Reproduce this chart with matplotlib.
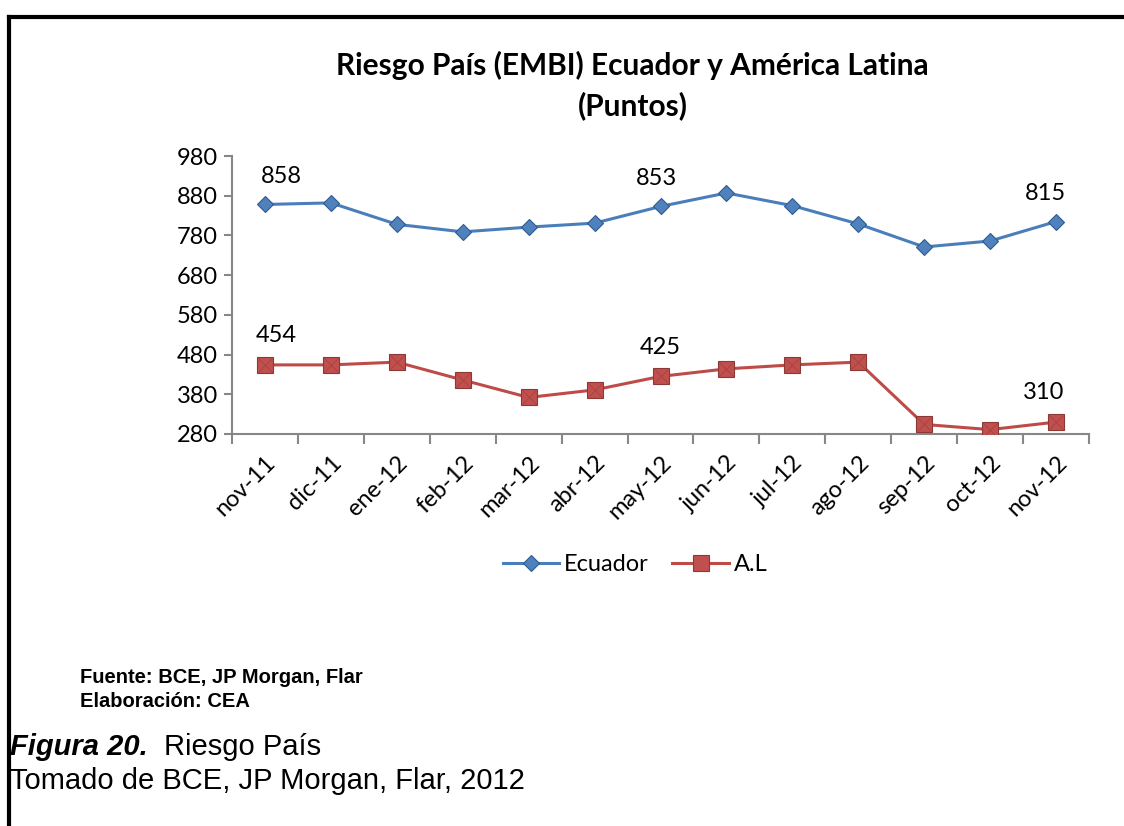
"""Riesgo Pais (EMBI) Ecuador y America Latina, nov-11 a nov-12."""
import matplotlib
matplotlib.use("Agg")
import matplotlib.pyplot as plt
from matplotlib.lines import Line2D
import numpy as np

months = ["nov-11", "dic-11", "ene-12", "feb-12", "mar-12", "abr-12", "may-12",
          "jun-12", "jul-12", "ago-12", "sep-12", "oct-12", "nov-12"]
ecuador = [858, 862, 808, 789, 801, 811, 853, 887, 855, 809, 751, 766, 815]
latam = [454, 454, 461, 416, 372, 391, 425, 444, 454, 461, 304, 291, 310]
y_ticks = [280, 380, 480, 580, 680, 780, 880, 980]
labelled = [0, 6, 12]

plt.rcParams["font.family"] = ["Lato", "DejaVu Sans"]

BLUE_LINE = "#4A7EBB"
BLUE_FILL = "#4F81BD"
BLUE_EDGE = "#2F5B8F"
RED_LINE = "#BE4B48"
RED_FILL = "#C0504D"
RED_EDGE = "#8C3836"
GRAY = "#878787"

fig = plt.figure(figsize=(11.24, 8.26), dpi=100)
ax = fig.add_axes([0.2064, 0.4746, 0.7625, 0.3365])

x = np.arange(len(months))
ax.plot(x, ecuador, color=BLUE_LINE, lw=2.2, marker="D", ms=8,
        mfc=BLUE_FILL, mec=BLUE_EDGE, mew=0.8, zorder=3)
ax.plot(x, latam, color=RED_LINE, lw=2.2, marker="s", ms=12,
        mfc=RED_FILL, mec=RED_EDGE, mew=0.8, zorder=3)
# bevel look of the square markers
ax.plot(x, latam, ls="none", marker="x", ms=10, mec="#A8403D", mew=0.6, zorder=4)

for i in labelled:
    dx = 12 if i == 0 else (-8 if i == 12 else -3)
    ax.annotate(str(ecuador[i]), (x[i], ecuador[i]), xytext=(dx, 20),
                textcoords="offset points", ha="center", va="center", fontsize=17)
    dx = 8 if i == 0 else (-9 if i == 12 else 0)
    ax.annotate(str(latam[i]), (x[i], latam[i]), xytext=(dx, 21),
                textcoords="offset points", ha="center", va="center", fontsize=17)

ax.set_xlim(-0.5, len(months) - 0.5)
ax.set_ylim(y_ticks[0], y_ticks[-1])
ax.set_yticks(y_ticks)
ax.tick_params(axis="y", length=6, width=1.5, color=GRAY, labelsize=17, pad=4)
ax.set_xticks(x)
ax.set_xticklabels(months, rotation=45, ha="right", va="top",
                   rotation_mode="anchor", fontsize=17)
ax.tick_params(axis="x", which="major", length=0, pad=13)
ax.set_xticks(np.arange(-0.5, len(months)), minor=True)
ax.tick_params(axis="x", which="minor", length=7, width=1.5, color=GRAY)
for side in ("top", "right"):
    ax.spines[side].set_visible(False)
for side in ("left", "bottom"):
    ax.spines[side].set_color(GRAY)
    ax.spines[side].set_linewidth(1.5)

handles = [
    Line2D([], [], color=BLUE_LINE, lw=2.2, marker="D", ms=8, mfc=BLUE_FILL,
           mec=BLUE_EDGE, mew=0.8),
    Line2D([], [], color=RED_LINE, lw=2.2, marker="s", ms=12, mfc=RED_FILL,
           mec=RED_EDGE, mew=0.8),
]
fig.legend(handles, ["Ecuador", "A.L"], loc="center", bbox_to_anchor=(0.565, 0.316),
           ncol=2, frameon=False, fontsize=17, handlelength=2.4,
           handletextpad=0.2, columnspacing=1.0)

fig.text(0.563, 0.921, "Riesgo País (EMBI) Ecuador y América Latina",
         ha="center", va="center", fontsize=21.5, fontweight="bold")
fig.text(0.563, 0.872, "(Puntos)", ha="center", va="center",
         fontsize=21.5, fontweight="bold")

fig.text(0.071, 0.180, "Fuente: BCE, JP Morgan, Flar", ha="left", va="center",
         fontsize=14.5, fontweight="bold", family="Liberation Sans")
fig.text(0.071, 0.151, "Elaboración: CEA", ha="left", va="center",
         fontsize=14.5, fontweight="bold", family="Liberation Sans")
fig.text(0.009, 0.096, "Figura 20.", ha="left", va="center", fontsize=21,
         fontweight="bold", fontstyle="italic", family="Liberation Sans")
fig.text(0.146, 0.096, "Riesgo País", ha="left", va="center", fontsize=21,
         family="Liberation Sans")
fig.text(0.009, 0.054, "Tomado de BCE, JP Morgan, Flar, 2012", ha="left",
         va="center", fontsize=21, family="Liberation Sans")

# page frame: top and left edges only
fig.add_artist(Line2D([0.008, 1.0], [0.980, 0.980], color="black", lw=3,
                      transform=fig.transFigure))
fig.add_artist(Line2D([0.008, 0.008], [0.0, 0.980], color="black", lw=3,
                      transform=fig.transFigure))

fig.savefig("out.png", dpi=100)
